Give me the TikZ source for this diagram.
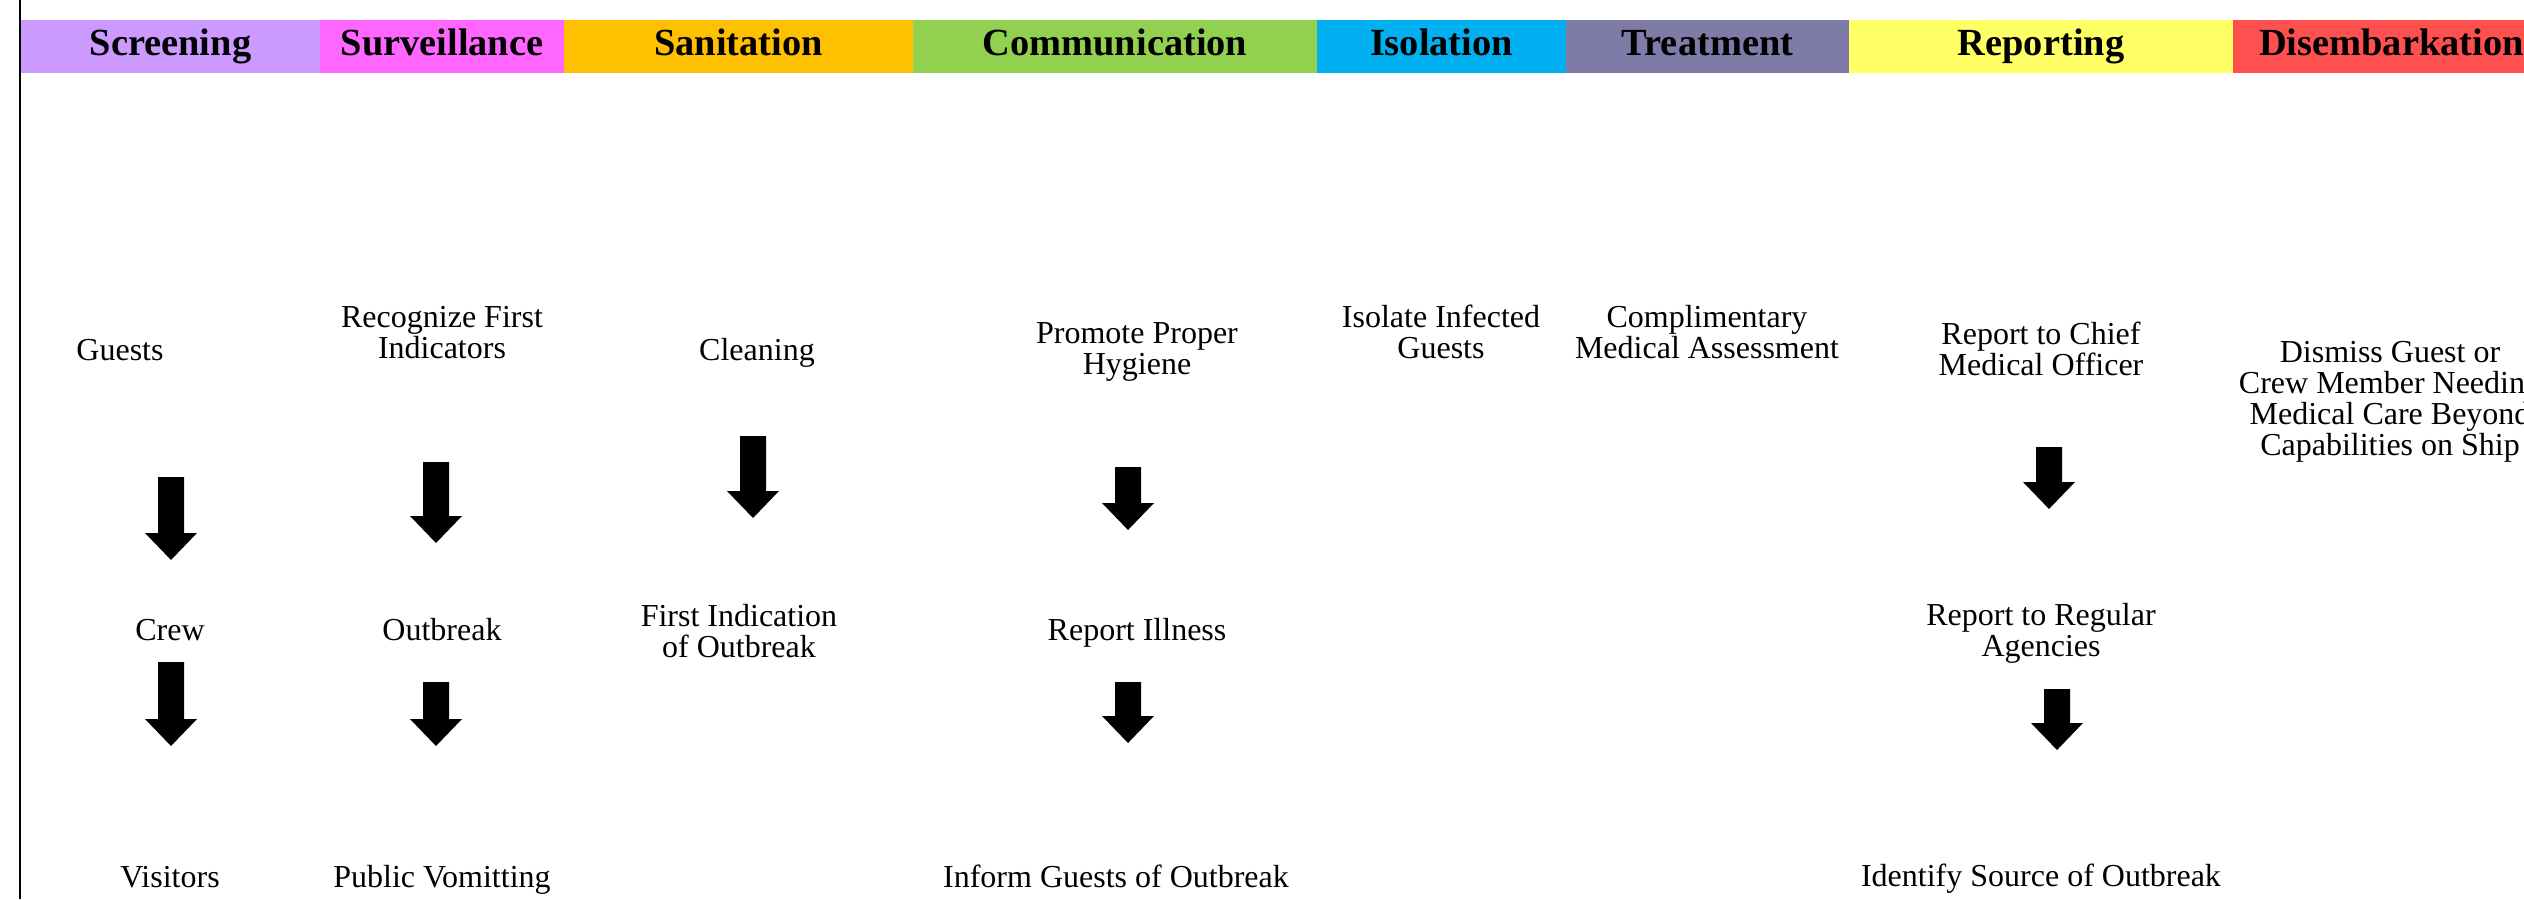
\documentclass[tikz,border=0pt]{standalone}
\usepackage{fontspec}
\setmainfont{Liberation Serif}
\usepackage{tikz}
\usetikzlibrary{positioning}
\definecolor{screencol}{HTML}{CC99FF}
\definecolor{survcol}{HTML}{FF66FF}
\definecolor{sanicol}{HTML}{FFC000}
\definecolor{commcol}{HTML}{92D050}
\definecolor{isolcol}{HTML}{00B0F0}
\definecolor{treatcol}{HTML}{7F7BA7}
\definecolor{repcol}{HTML}{FFFF66}
\definecolor{disembcol}{HTML}{FF5050}
\newcommand{\pxu}{0.25pt}
\newcommand{\hdrfont}{\bfseries\fontsize{9.6}{10}\selectfont}
\newcommand{\bodyfont}{\fontsize{8}{7.75}\selectfont}
\tikzset{
  hdr/.style ={inner sep=0pt,outer sep=0pt,minimum height=53*\pxu,
               text height=6.7pt,text depth=2.1pt,font=\hdrfont},
  txt/.style ={inner sep=0pt,align=center,font=\bodyfont},
  pics/downarr/.style={code={
    \fill[black] (-13,0) -- (13,0) -- (13,#1-27) -- (26,#1-27) -- (0,#1)
                 -- (-26,#1-27) -- (-13,#1-27) -- cycle;}}
}

\begin{document}
\begin{tikzpicture}[x=\pxu,y=-\pxu]
    \clip (0,0) rectangle (2524,899);
    \fill[white] (0,0) rectangle (2524,899);
    \draw[line width=2.5*\pxu] (20,0) -- (20,899);
    % header row
    \node[hdr,fill=screencol,minimum width=299*\pxu,anchor=west] (scr) at (21,46.5) {Screening};
    \node[hdr,fill=survcol,minimum width=244*\pxu,right=0pt of scr] (surv) {Surveillance};
    \node[hdr,fill=sanicol,minimum width=349*\pxu,right=0pt of surv] (sani) {Sanitation};
    \node[hdr,fill=commcol,minimum width=404*\pxu,right=0pt of sani] (comm) {Communication};
    \node[hdr,fill=isolcol,minimum width=249*\pxu,right=0pt of comm] (isolh) {Isolation};
    \node[hdr,fill=treatcol,minimum width=283*\pxu,right=0pt of isolh] (treat) {Treatment};
    \node[hdr,fill=repcol,minimum width=384*\pxu,right=0pt of treat] (rep) {Reporting};
    \node[hdr,fill=disembcol,minimum width=317*\pxu,right=0pt of rep] (dis) {Disembarkation};
    % steps
    \node[txt,anchor=base] (guests) at (120,360) {Guests};
    \node[txt,anchor=base] (crew) at (170,640) {Crew};
    \node[txt,anchor=base] (visit) at (170,887) {Visitors};
    \node[txt] (recog) at (442,333) {Recognize First\\Indicators};
    \node[txt,anchor=base] (outbr) at (442,640) {Outbreak};
    \node[txt,anchor=base] (vomit) at (442,887) {Public Vomitting};
    \node[txt,anchor=base] (clean) at (757,360) {Cleaning};
    \node[txt] (firstind) at (739,631) {First Indication\\of Outbreak};
    \node[txt] (hyg) at (1137,352) {Promote Proper\\Hygiene};
    \node[txt,anchor=base] (repill) at (1137,640) {Report Illness};
    \node[txt,anchor=base] (inform) at (1116,887) {Inform Guests of Outbreak};
    \node[txt] (isol) at (1441,332) {Isolate Infected\\Guests};
    \node[txt] (assess) at (1707,332) {Complimentary\\Medical Assessment};
    \node[txt] (chief) at (2041,349) {Report to Chief\\Medical Officer};
    \node[txt] (agency) at (2041,633) {Report to Regular\\Agencies};
    \node[txt,anchor=base] (source) at (2041,886) {Identify Source of Outbreak};
    \node[txt] (dismiss) at (2390,402) {Dismiss Guest or\\Crew Member Needing\\Medical Care Beyond\\Capabilities on Ship};
    % block arrows
    \foreach \ax/\ay/\al in {171/477/83, 171/662/84, 436/462/81, 436/682/64,
                             753/436/82, 1128/467/63, 1128/682/61,
                             2049/447/62, 2057/689/61}
      \pic at (\ax,\ay) {downarr=\al};
\end{tikzpicture}
\end{document}
